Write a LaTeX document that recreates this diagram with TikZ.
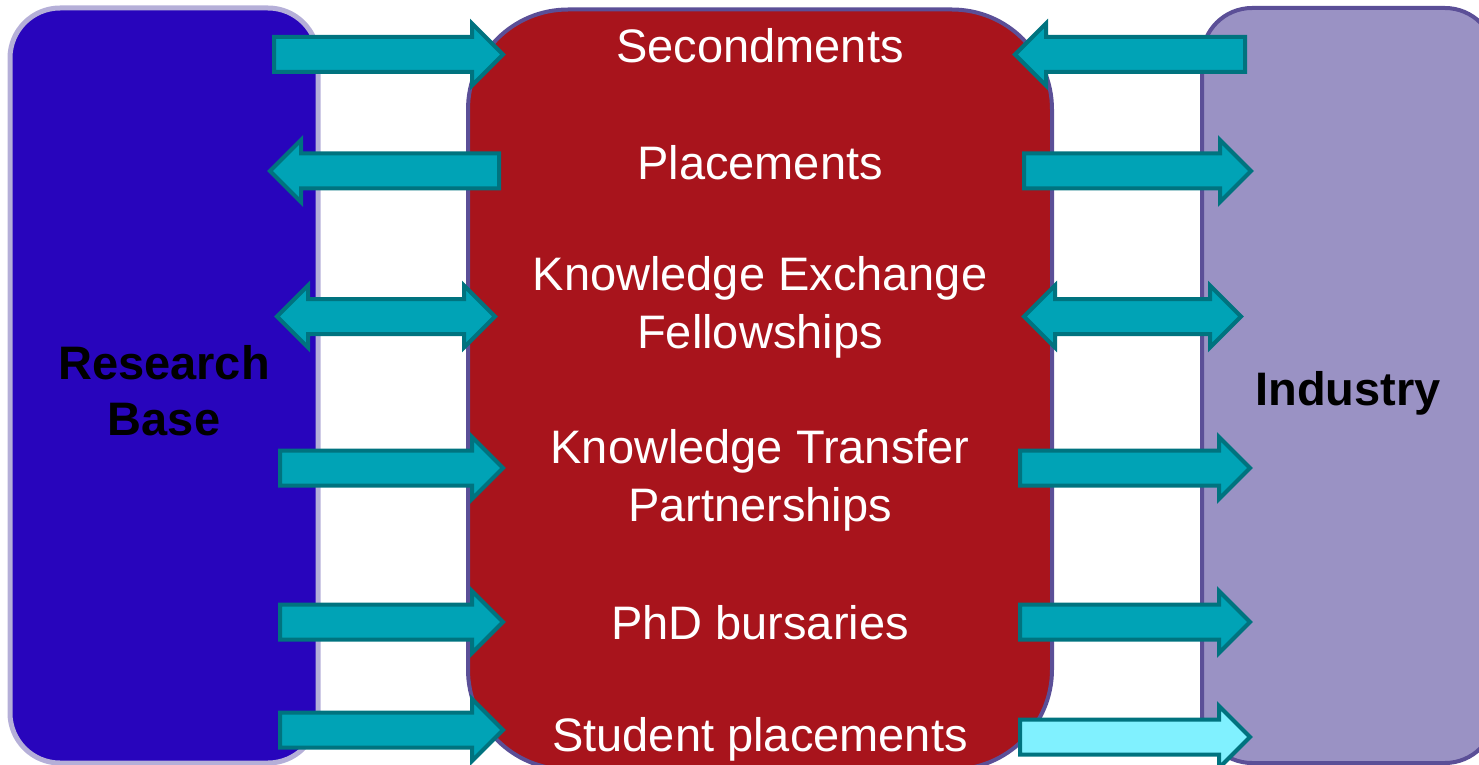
\documentclass[tikz,border=0pt]{standalone}
\usepackage{fontspec}
\setmainfont{Liberation Sans}
\usetikzlibrary{shapes.arrows}
\definecolor{resblue}{HTML}{2805BC}
\definecolor{resedge}{HTML}{B5AFD8}
\definecolor{midred}{HTML}{A8141C}
\definecolor{boxedge}{HTML}{5B4F97}
\definecolor{indlilac}{HTML}{9A92C4}
\definecolor{arrowfill}{HTML}{00A3B6}
\definecolor{arrowedge}{HTML}{00737F}
\definecolor{arrowlight}{HTML}{80F1FF}
\tikzset{
  pillar/.style={rectangle, line width=2pt, draw=boxedge, inner sep=0pt},
  blockarrow/.style={single arrow, draw=arrowedge, fill=arrowfill, line width=2pt,
    inner xsep=0pt, inner ysep=7.75pt, minimum width=29pt, single arrow head extend=6.75pt,
    single arrow head indent=0pt, anchor=tail},
  twoway/.style={double arrow, draw=arrowedge, fill=arrowfill, line width=2pt,
    inner xsep=0pt, inner ysep=7.75pt, minimum width=29pt, double arrow head extend=6.75pt,
    double arrow head indent=0pt},
  scheme/.style={text=white, font=\fontsize{23.5}{29}\selectfont, align=center},
  side/.style={text=black, font=\fontsize{23.5}{28}\selectfont\bfseries, align=center}
}

\begin{document}
\begin{tikzpicture}[x=0.5pt,y=-0.5pt]
	\useasboundingbox (0,0) rectangle (1479,765);
	%Research base
	\node [pillar, fill=resblue, draw=resedge, line width=2.5pt, rounded corners=25pt,
		minimum width=154pt, minimum height=377.5pt] (research) at (164,385.5) {};
	%Middle
	\node [pillar, fill=midred, rounded corners=50pt,
		minimum width=292pt, minimum height=380pt] (mid) at (760,389.5) {};
	%Industry
	\node [pillar, fill=indlilac, rounded corners=25pt,
		minimum width=146.5pt, minimum height=377.5pt] (industry) at (1348.5,385.5) {};
	%Arrows left
	\node [blockarrow, minimum height=114.5pt] (secL) at (272,54.5) {};
	\node [blockarrow, minimum height=114.5pt, shape border rotate=180] (plaL) at (501,171) {};
	\node [twoway, minimum height=109pt] (kefL) at (386,316.5) {};
	\node [blockarrow, minimum height=111.5pt] (ktpL) at (278,468) {};
	\node [blockarrow, minimum height=111.5pt] (phdL) at (278,622) {};
	\node [blockarrow, minimum height=111.5pt] (stuL) at (278,730) {};
	%Arrows right
	\node [blockarrow, minimum height=115pt, shape border rotate=180] (secR) at (1247,54.5) {};
	\node [blockarrow, minimum height=113.5pt] (plaR) at (1022,171) {};
	\node [twoway, minimum height=108.5pt] (kefR) at (1132.5,316.5) {};
	\node [blockarrow, minimum height=115pt] (ktpR) at (1018,468) {};
	\node [blockarrow, minimum height=115pt] (phdR) at (1018,622) {};
	\node [blockarrow, minimum height=115pt, fill=arrowlight] (stuR) at (1018,737) {};
	%Texts
	\node [scheme] (sec) at (760,46) {Secondments};
	\node [scheme] (pla) at (760,163) {Placements};
	\node [scheme] (kef) at (760,307) {Knowledge Exchange\\Fellowships};
	\node [scheme] (ktp) at (760,480) {Knowledge Transfer\\Partnerships};
	\node [scheme] (phd) at (760,623) {PhD bursaries};
	\node [scheme] (stu) at (760,739) {Student placements};
	\node [side] (resL) at (164,391) {Research\\Base};
	\node [side] (indL) at (1348,393) {Industry};
\end{tikzpicture}
\end{document}
